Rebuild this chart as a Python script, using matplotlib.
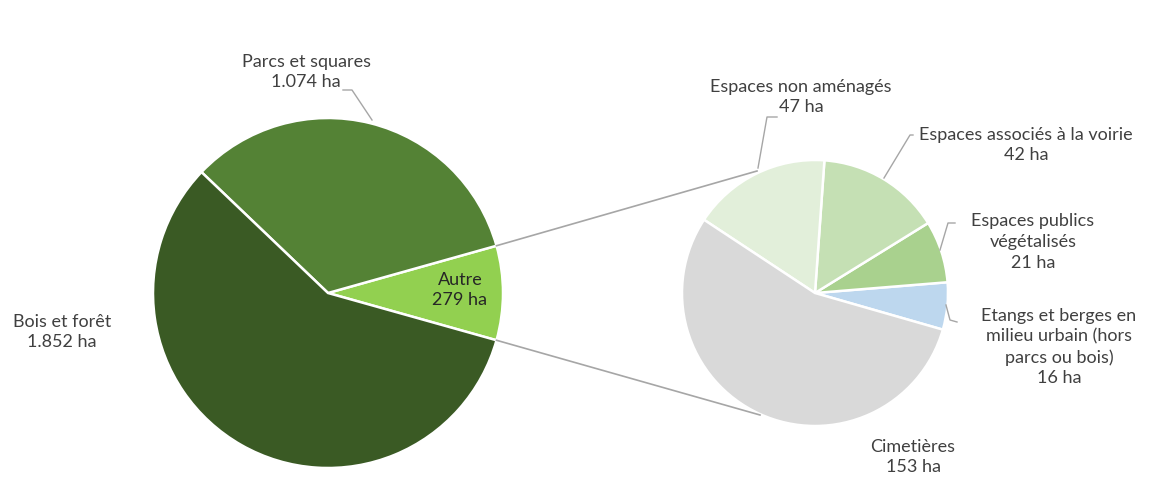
import numpy as np
import matplotlib
matplotlib.use("Agg")
from matplotlib import pyplot as plt

# main pie
main_labels = ["Autre", "Parcs et squares", "Bois et forêt"]
main_values = [279, 1074, 1852]
main_colors = ["#92d050", "#548235", "#3a5a24"]

# detail of "Autre"
sub_labels = ["Etangs et berges en\nmilieu urbain (hors\nparcs ou bois)",
              "Espaces publics\nvégétalisés",
              "Espaces associés à la voirie",
              "Espaces non aménagés",
              "Cimetières"]
sub_values = [16, 21, 42, 47, 153]
sub_colors = ["#bdd7ee", "#a9d18e", "#c5e0b4", "#e2efda", "#d9d9d9"]

plt.rcParams['font.family'] = ['Lato', 'DejaVu Sans']

W, H = 1154, 495
fig = plt.figure(figsize=(W / 100, H / 100), dpi=100)
ax = fig.add_axes([0, 0, 1, 1])

def py(y):
    return H - y

c1, r1 = (328, py(293)), 175
c2, r2 = (815, py(293)), 133

start1 = -main_values[0] / sum(main_values) * 360 / 2
ax.pie(main_values, colors=main_colors, center=c1, radius=r1, startangle=start1,
       counterclock=True, wedgeprops=dict(edgecolor='white', linewidth=1.8),
       frame=True)
ax.pie(sub_values, colors=sub_colors, center=c2, radius=r2, startangle=-16,
       counterclock=True, wedgeprops=dict(edgecolor='white', linewidth=1.8),
       frame=True)
ax.set_xlim(0, W)
ax.set_ylim(0, H)
ax.set_aspect('equal')
ax.axis('off')

# connector lines
a = np.deg2rad(-start1)
p_top = (c1[0] + r1 * np.cos(a), c1[1] + r1 * np.sin(a))
p_bot = (c1[0] + r1 * np.cos(a), c1[1] - r1 * np.sin(a))
ax.plot([p_top[0], 757], [p_top[1], py(171)], color='#a6a6a6', lw=1.2)
ax.plot([p_bot[0], 760], [p_bot[1], py(415)], color='#a6a6a6', lw=1.2)

tc = '#404040'
fs = 13
ls = 1.35
def lab(x, y, s, **kw):
    ax.text(x, py(y), s, ha='center', va='center', fontsize=fs, color=tc,
            linespacing=ls, **kw)

def leader(pts):
    xs = [p[0] for p in pts]
    ys = [py(p[1]) for p in pts]
    ax.plot(xs, ys, color='#a6a6a6', lw=1.0)

def ha_fmt(v):
    return "{:,}".format(v).replace(",", ".") + " ha"

lab(306, 72, "Parcs et squares\n" + ha_fmt(main_values[1]))
leader([(343, 90), (352, 90), (372, 120)])
lab(62, 332, "Bois et forêt\n" + ha_fmt(main_values[2]))
ax.text(460, py(290), "Autre\n" + ha_fmt(main_values[0]), ha='center', va='center',
        fontsize=fs, color='#262626', linespacing=ls)

lab(801, 97, sub_labels[3] + "\n" + ha_fmt(sub_values[3]))
leader([(777, 117), (767, 117), (758, 168)])
lab(1026, 145, sub_labels[2] + "\n" + ha_fmt(sub_values[2]))
leader([(913, 135), (910, 135), (884, 178)])
lab(1033, 242, sub_labels[1] + "\n" + ha_fmt(sub_values[1]))
leader([(955, 223), (948, 223), (940, 250)])
lab(1059, 347, sub_labels[0] + "\n" + ha_fmt(sub_values[0]))
leader([(946, 305), (950, 320), (957, 322)])
lab(913, 457, sub_labels[4] + "\n" + ha_fmt(sub_values[4]))

fig.savefig("out.png", dpi=100)
